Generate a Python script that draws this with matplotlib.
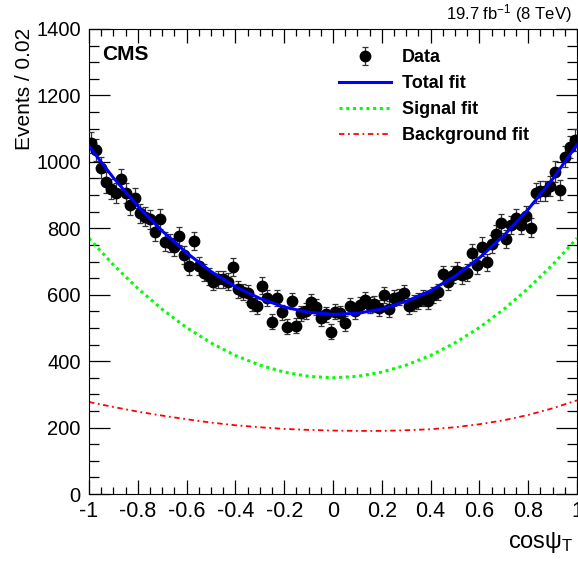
import numpy as np
import matplotlib
matplotlib.use('Agg')
import matplotlib.pyplot as plt
from matplotlib.ticker import MultipleLocator

plt.rcParams['font.family'] = ['Liberation Sans', 'DejaVu Sans']
plt.rcParams['mathtext.default'] = 'regular'

# bin centres of cos(psi_T), width 0.02
bin_lo = -1.0
bin_w = 0.02

# events per bin (100 bins)
events = [1058, 1036, 982, 938, 917, 907, 948, 907, 870, 892,
          845, 835, 827, 790, 828, 760, 755, 743, 777, 720,
          687, 762, 687, 666, 656, 639, 646, 647, 639, 684,
          616, 609, 604, 576, 566, 627, 591, 519, 589, 547,
          504, 581, 506, 544, 551, 579, 562, 529, 541, 489,
          549, 544, 514, 566, 550, 570, 584, 570, 572, 560,
          599, 558, 590, 594, 605, 567, 574, 581, 589, 581,
          600, 609, 661, 638, 660, 672, 659, 666, 725, 688,
          745, 697, 753, 782, 815, 768, 810, 830, 810, 838,
          802, 905, 912, 912, 927, 970, 915, 1016, 1045, 1065]

# fit curves read at steps of 0.1
fit_x = [-1.0, -0.9, -0.8, -0.7, -0.6, -0.5, -0.4, -0.3, -0.2, -0.1, 0.0,
         0.1, 0.2, 0.3, 0.4, 0.5, 0.6, 0.7, 0.8, 0.9, 1.0]
total_fit = [1047, 952, 867, 792, 726, 670, 624, 589, 563, 547, 541,
             544, 557, 580, 612, 656, 711, 778, 857, 948, 1052]
signal_fit = [770, 690, 619, 556, 501, 455, 417, 388, 367, 354, 350,
              354, 367, 388, 417, 455, 501, 556, 619, 690, 770]
bkg_fit = [277, 262, 248, 236, 225, 215, 207, 201, 196, 193, 191,
           190, 190, 192, 195, 201, 210, 222, 238, 258, 282]

x = bin_lo + bin_w * (np.arange(len(events)) + 0.5)
y = np.array(events, dtype=float)
err = np.sqrt(y)

fig = plt.figure(figsize=(5.78, 5.66), dpi=100)
ax = fig.add_axes([89 / 578, 1 - 494 / 566, 488 / 578, 465 / 566])

h_data = ax.errorbar(x, y, yerr=err, fmt='o', color='black', ms=7.5, elinewidth=0.9,
                     ecolor='#333333', capsize=2.5, capthick=0.9, label='Data', zorder=3)
h_tot, = ax.plot(fit_x, total_fit, color='#0000ff', lw=2.2, label='Total fit', zorder=4)
h_sig, = ax.plot(fit_x, signal_fit, color='#00ff00', lw=2.2, ls=(0, (1, 1.2)), label='Signal fit')
h_bkg, = ax.plot(fit_x, bkg_fit, color='#ff0000', lw=1.3, ls=(0, (3, 2, 1, 2)), label='Background fit')

ax.set_xlim(-1, 1)
ax.set_ylim(0, 1400)
ax.xaxis.set_minor_locator(MultipleLocator(0.05))
ax.yaxis.set_major_locator(MultipleLocator(200))
ax.yaxis.set_minor_locator(MultipleLocator(50))
ax.set_xticks(np.arange(-1, 1.01, 0.2))
ax.set_xticklabels(['-1', '-0.8', '-0.6', '-0.4', '-0.2', '0', '0.2', '0.4', '0.6', '0.8', '1'])
ax.tick_params(which='both', direction='in', top=True, right=True, width=0.9)
ax.tick_params(axis='x', which='major', length=10, pad=5, labelsize=15.5)
ax.tick_params(axis='x', which='minor', length=5)
ax.tick_params(axis='y', which='major', length=15, pad=6, labelsize=14.5)
ax.tick_params(axis='y', which='minor', length=7.5)

ax.text(13 / 488, (494 - 45) / 465, 'CMS', transform=ax.transAxes, fontsize=15, fontweight='bold',
        va='top', ha='left')
fig.text(572 / 578, 1 - 14 / 566, r'19.7 fb$^{-1}$ (8 TeV)', ha='right', va='center', fontsize=12)
fig.text(25 / 578, 1 - 28 / 566, 'Events / 0.02', rotation=90, ha='center', va='top', fontsize=15)
fig.text(574 / 578, 1 - 548 / 566, r'cos$\psi_{T}$', ha='right', va='baseline', fontsize=17)

leg = ax.legend([h_data, h_tot, h_sig, h_bkg], ['Data', 'Total fit', 'Signal fit', 'Background fit'],
                loc='upper left', bbox_to_anchor=((339 - 89) / 488, (494 - 49) / 465), frameon=False,
                prop={'weight': 'bold', 'size': 13}, handlelength=2.9, borderpad=0,
                handletextpad=0.6, labelspacing=0.5, borderaxespad=0)

fig.savefig('out.png', dpi=100)
